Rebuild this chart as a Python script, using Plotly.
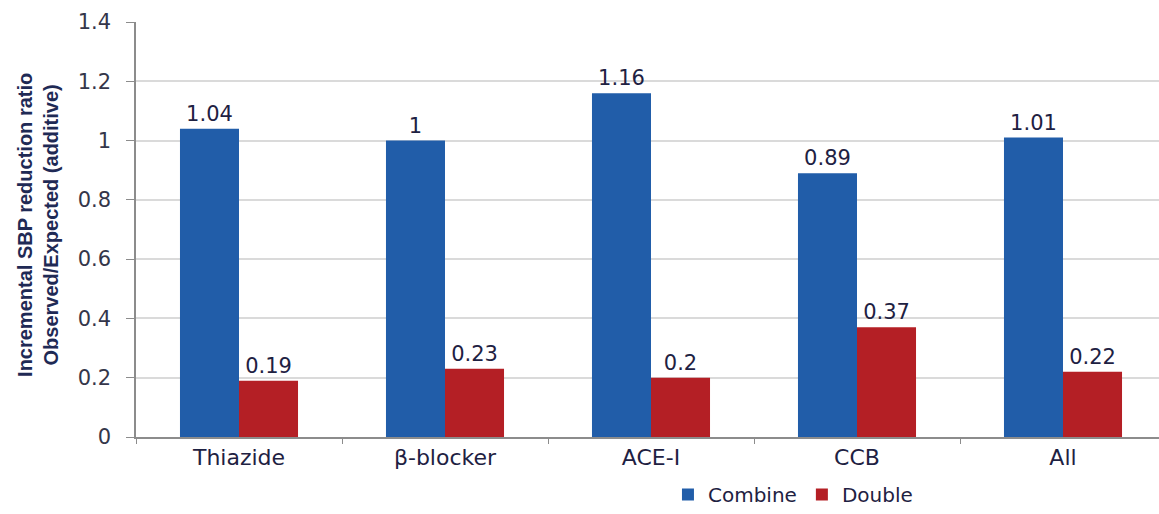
import plotly.graph_objects as go

# Drug classes and observed/expected SBP reduction ratios
categories = ["Thiazide", "β-blocker", "ACE-I", "CCB", "All"]
combine = [1.04, 1.00, 1.16, 0.89, 1.01]
double = [0.19, 0.23, 0.20, 0.37, 0.22]
combine_labels = ["1.04", "1", "1.16", "0.89", "1.01"]
double_labels = ["0.19", "0.23", "0.2", "0.37", "0.22"]

BLUE = "#215DA9"
RED = "#B41F25"
TEXT = "#1E2142"
WIDE = "DejaVu Sans, Verdana, sans-serif"
NARROW = "Liberation Sans, Arial, sans-serif"

fig = go.Figure()
fig.add_trace(go.Bar(
    name="Combine", x=categories, y=combine,
    marker=dict(color=BLUE, line=dict(width=0)),
    text=combine_labels, textposition="outside", cliponaxis=False,
    textfont=dict(size=21, color=TEXT, family=WIDE),
))
fig.add_trace(go.Bar(
    name="Double", x=categories, y=double,
    marker=dict(color=RED, line=dict(width=0)),
    text=double_labels, textposition="outside", cliponaxis=False,
    textfont=dict(size=21, color=TEXT, family=WIDE),
))

fig.update_layout(
    width=1159, height=514,
    margin=dict(l=136, r=0, t=22, b=77, autoexpand=False),
    paper_bgcolor="white", plot_bgcolor="white",
    barmode="group", bargap=0.427, bargroupgap=0,
    font=dict(family=WIDE, color=TEXT, size=18),
    showlegend=True,
    legend=dict(
        orientation="h", x=0.52, xanchor="left",
        yref="container", y=-0.012, yanchor="bottom",
        font=dict(size=20, color=TEXT, family=WIDE), itemwidth=30,
        traceorder="normal", bgcolor="rgba(0,0,0,0)",
    ),
)

fig.update_xaxes(
    range=[-0.5, 4.466], automargin=False,
    showline=True, linecolor="#8c8c8c", linewidth=1.5,
    ticks="outside", tickson="boundaries", ticklen=5, tickcolor="#8c8c8c",
    tickfont=dict(size=22, color=TEXT, family=WIDE), showgrid=False,
)
fig.update_yaxes(
    range=[0, 1.4], dtick=0.2, tickformat="~g", automargin=False,
    showline=True, linecolor="#8c8c8c", linewidth=1.5,
    ticks="outside", ticklen=8, tickcolor="#8c8c8c", ticklabelstandoff=11,
    showgrid=True, gridcolor="#dadada", gridwidth=1.5,
    tickfont=dict(size=21, color="#34364a", family=WIDE),
    zeroline=False,
)

# Two-line bold axis title placed beside the tick labels
fig.add_annotation(
    text="<b>Incremental SBP reduction ratio<br>Observed/Expected (additive)</b>",
    xref="paper", yref="paper", x=-0.0958, y=0.511,
    xanchor="center", yanchor="middle", textangle=-90, showarrow=False,
    font=dict(size=20, color="#1F2A55", family=NARROW),
)

fig.write_html("out.html")
